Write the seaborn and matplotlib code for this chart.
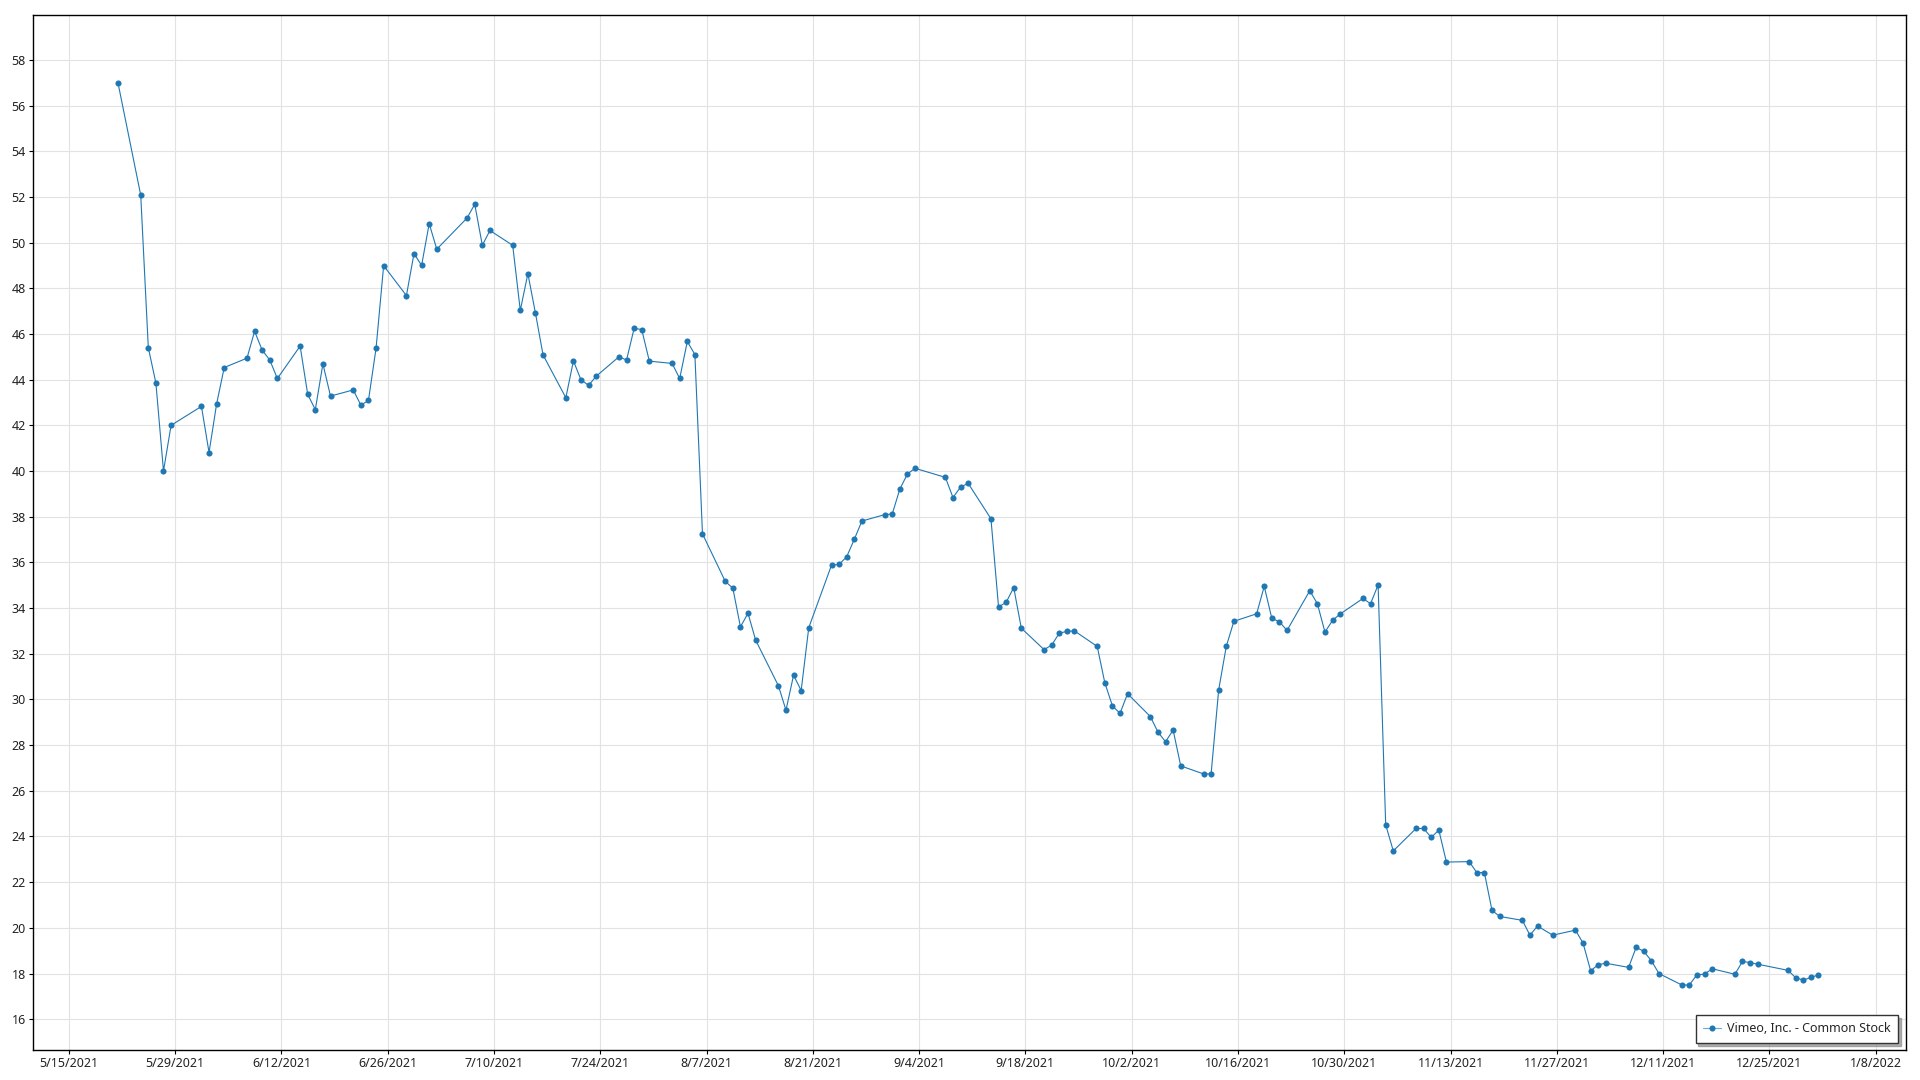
import matplotlib
matplotlib.use("Agg")
import matplotlib.pyplot as plt
import matplotlib.ticker as mticker
import matplotlib.dates as mdates
import numpy as np
import pandas as pd
import seaborn as sns

# trading days (day of month) and closing prices
may_days = [21, 24, 25, 26, 27, 28]
may_vals = [57.0, 52.08, 45.40, 43.85, 40.0, 42.0]

jun_days = [1, 2, 3, 4, 7, 8, 9, 10, 11, 14, 15, 16, 17, 18, 21, 22, 23, 24, 25, 28, 29, 30]
jun_vals = [42.83, 40.81, 42.94, 44.53, 44.94, 46.12, 45.29, 44.86, 44.05, 45.47, 43.35,
            42.69, 44.69, 43.28, 43.55, 42.88, 43.09, 45.37, 48.99, 47.68, 49.52, 49.0]

jul_days = [1, 2, 6, 7, 8, 9, 12, 13, 14, 15, 16, 19, 20, 21, 22, 23, 26, 27, 28, 29, 30]
jul_vals = [50.83, 49.71, 51.08, 51.68, 49.88, 50.53, 49.88, 47.03, 48.64, 46.91, 45.08,
            43.21, 44.82, 43.99, 43.75, 44.15, 45.0, 44.86, 46.25, 46.19, 44.81]

aug_days = [2, 3, 4, 5, 6, 9, 10, 11, 12, 13, 16, 17, 18, 19, 20, 23, 24, 25, 26, 27, 30, 31]
aug_vals = [44.71, 44.05, 45.67, 45.10, 37.25, 35.17, 34.87, 33.18, 33.77, 32.60, 30.60,
            29.53, 31.06, 30.39, 33.14, 35.88, 35.91, 36.25, 37.01, 37.81, 38.09, 38.12]

sep_days = [1, 2, 3, 7, 8, 9, 10, 13, 14, 15, 16, 17, 20, 21, 22, 23, 24, 27, 28, 29, 30]
sep_vals = [39.21, 39.87, 40.12, 39.72, 38.84, 39.30, 39.46, 37.91, 34.05, 34.25, 34.90,
            33.12, 32.18, 32.38, 32.90, 32.98, 33.0, 32.32, 30.73, 29.72, 29.39]

oct_days = [1, 4, 5, 6, 7, 8, 11, 12, 13, 14, 15, 18, 19, 20, 21, 22, 25, 26, 27, 28, 29]
oct_vals = [30.25, 29.25, 28.57, 28.15, 28.66, 27.09, 26.74, 26.74, 30.42, 32.32, 33.42,
            33.75, 34.95, 33.55, 33.40, 33.02, 34.76, 34.19, 32.95, 33.46, 33.74]

nov_days = [1, 2, 3, 4, 5, 8, 9, 10, 11, 12, 15, 16, 17, 18, 19, 22, 23, 24, 26, 29, 30]
nov_vals = [34.42, 34.19, 35.01, 24.51, 23.37, 24.35, 24.35, 23.96, 24.28, 22.88, 22.90,
            22.42, 22.42, 20.77, 20.50, 20.33, 19.68, 20.08, 19.68, 19.90, 19.33]

dec_days = [1, 2, 3, 6, 7, 8, 9, 10, 13, 14, 15, 16, 17, 20, 21, 22, 23, 27, 28, 29, 30, 31]
dec_vals = [18.12, 18.39, 18.45, 18.27, 19.15, 18.97, 18.56, 18.0, 17.50, 17.50, 17.95,
            17.97, 18.21, 17.97, 18.53, 18.48, 18.41, 18.14, 17.82, 17.71, 17.83, 17.94]

series_name = "Vimeo, Inc. - Common Stock"

months = [(5, may_days, may_vals), (6, jun_days, jun_vals), (7, jul_days, jul_vals),
          (8, aug_days, aug_vals), (9, sep_days, sep_vals), (10, oct_days, oct_vals),
          (11, nov_days, nov_vals), (12, dec_days, dec_vals)]

dates = []
prices = []
for m, days, vals in months:
    for d, v in zip(days, vals):
        dates.append(pd.Timestamp(2021, m, d))
        prices.append(v)

df = pd.DataFrame({"date": dates, "price": prices})
# points sit a bit after midnight in the original
df["date"] = df["date"] + pd.Timedelta(hours=11)

sns.set_style("white")
plt.rcParams["font.family"] = ["Noto Sans", "DejaVu Sans"]
plt.rcParams["font.size"] = 9

fig = plt.figure(figsize=(19.2, 10.8), dpi=100)
ax = fig.add_axes([32.7 / 1920, (1080 - 1050.3) / 1080,
                   (1905.7 - 32.7) / 1920, (1050.3 - 15.3) / 1080])

color = "#1f77b4"
sns.lineplot(data=df, x="date", y="price", ax=ax, color=color, linewidth=0.8,
             marker="o", markersize=4.4, markeredgewidth=0, label=series_name)

ax.set_xlim(pd.Timestamp("2021-05-10 05:30"), pd.Timestamp("2022-01-11 23:00"))
ax.set_ylim(14.64, 59.95)

xticks = pd.date_range("2021-05-15", "2022-01-08", freq="14D")
ax.set_xticks(xticks)
ax.xaxis.set_major_formatter(mticker.FuncFormatter(
    lambda x, pos: "{d.month}/{d.day}/{d.year}".format(d=mdates.num2date(x))))
ax.yaxis.set_major_locator(mticker.MultipleLocator(2))
ax.yaxis.set_minor_locator(mticker.AutoMinorLocator(5))

ax.grid(True, which="major", color="#e2e2e2", linewidth=0.8)
ax.tick_params(axis="both", which="major", direction="out", length=3, width=0.8,
               color="black", labelcolor="#222222", labelsize=9, pad=2)
ax.tick_params(axis="y", which="minor", direction="out", length=2, width=0.6, color="black")
ax.tick_params(left=True, bottom=True)
for s in ax.spines.values():
    s.set_color("black")
    s.set_linewidth(1.0)

ax.set_xlabel("")
ax.set_ylabel("")

leg = ax.legend(loc="lower right", frameon=True, fancybox=False,
                shadow={"color": "0.55", "alpha": 0.7},
                borderaxespad=0.6, handlelength=1.4, handletextpad=0.5,
                fontsize=9, borderpad=0.6)
leg.get_frame().set_edgecolor("#333333")
leg.get_frame().set_linewidth(1.0)
for h in leg.get_lines():
    h.set_color("#6aa6d6")
    h.set_markerfacecolor(color)

fig.savefig("out.png", dpi=100)
